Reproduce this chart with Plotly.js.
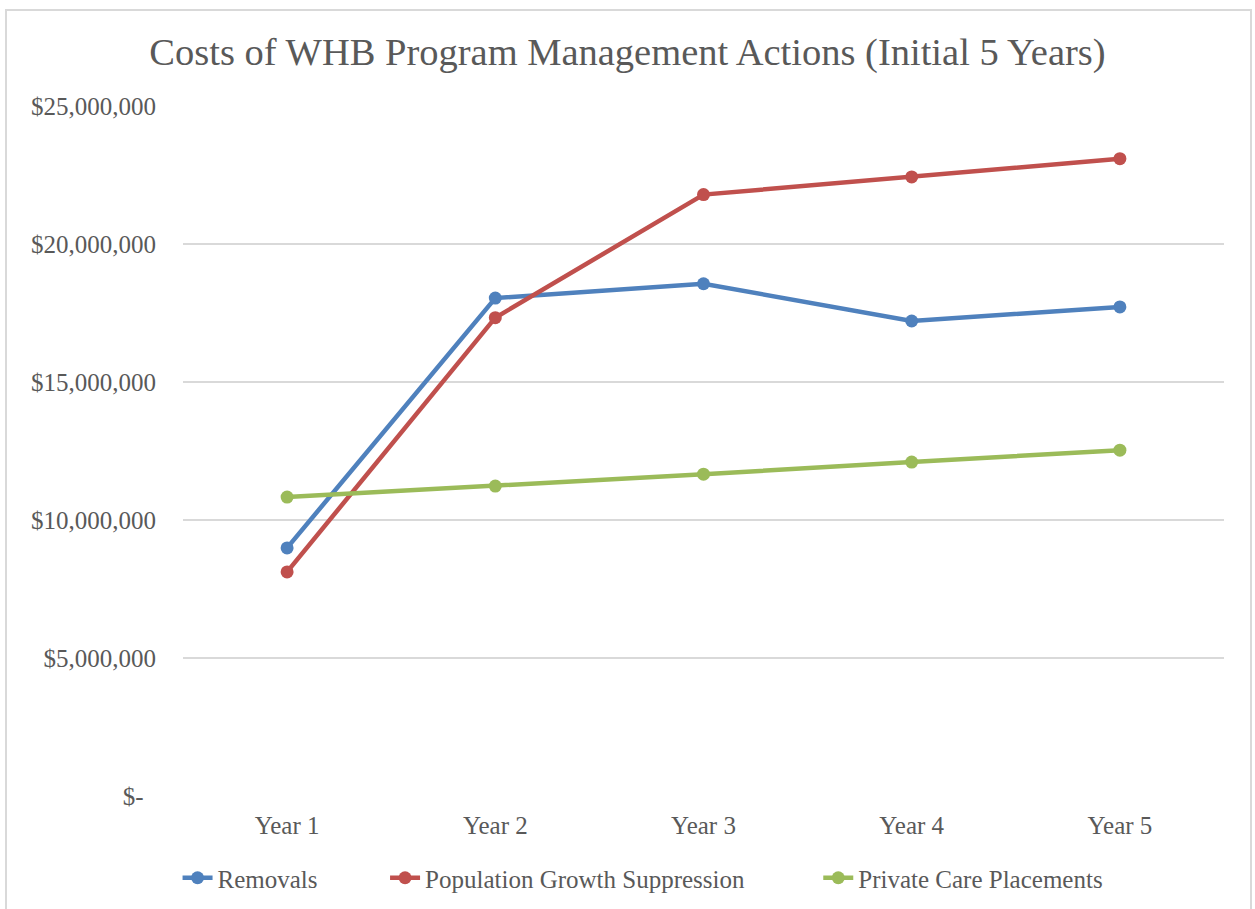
<!DOCTYPE html>
<html>
<head>
<meta charset="utf-8">
<script src="https://cdn.plot.ly/plotly-3.0.1.min.js"></script>
<style>
html,body{margin:0;padding:0;background:#fff;}
#wrap{position:relative;width:1255px;height:909px;overflow:hidden;}
#chart{position:absolute;left:0;top:0;width:1255px;height:909px;}
#frame{position:absolute;left:5px;top:9px;width:1247px;height:920px;border:2px solid #d9d9d9;pointer-events:none;box-sizing:border-box;}
</style>
</head>
<body>
<div id="wrap"><div id="chart"></div><div id="frame"></div></div>
<script>
const years = ["Year 1", "Year 2", "Year 3", "Year 4", "Year 5"];
const removals = [8990000, 18040000, 18560000, 17210000, 17720000];
const growthSuppression = [8120000, 17330000, 21790000, 22430000, 23090000];
const privateCare = [10830000, 11230000, 11660000, 12100000, 12530000];
const seriesNames = ["Removals", "Population Growth Suppression", "Private Care Placements"];
const yTickVals = [0, 5000000, 10000000, 15000000, 20000000, 25000000];
const yTickText = ["$-\u00a0\u00a0", "$5,000,000", "$10,000,000", "$15,000,000", "$20,000,000", "$25,000,000"];

const font = "Liberation Serif, Cambria, serif";
const txt = "#595959";
const nb = n => "\u00a0".repeat(n);

function tr(name, y, color, padN) {
  return {
    type: "scatter", mode: "lines+markers", name: name + nb(padN), x: years, y: y,
    line: {color: color, width: 4.5},
    marker: {color: color, size: 13},
    cliponaxis: false
  };
}

const data = [
  tr(seriesNames[0], removals, "#4f81bd", 10),
  tr(seriesNames[1], growthSuppression, "#c0504d", 11),
  tr(seriesNames[2], privateCare, "#9bbb59", 0)
];

const layout = {
  width: 1255, height: 909,
  paper_bgcolor: "#ffffff", plot_bgcolor: "#ffffff",
  margin: {l: 183, r: 31, t: 106, b: 113},
  font: {family: font, color: txt, size: 25},
  title: {text: "Costs of WHB Program Management Actions (Initial 5 Years)",
          font: {family: font, size: 38.5, color: txt},
          x: 0.5, xref: "container", xanchor: "center", y: 1 - 52/909, yanchor: "middle", yref: "container"},
  xaxis: {type: "category", range: [-0.5, 4.5], showgrid: false, zeroline: false,
          showline: false, ticks: "", ticklabelstandoff: 12, tickfont: {family: font, size: 25, color: txt}},
  yaxis: {range: [0, 25000000], tickvals: yTickVals, ticktext: yTickText,
          showgrid: true, gridcolor: "#d9d9d9", gridwidth: 1.5, zeroline: false, showline: false,
          ticks: "", ticklabelstandoff: 26, tickfont: {family: font, size: 25, color: txt}},
  showlegend: true,
  legend: {orientation: "h", x: 0.5124, xref: "container", xanchor: "center",
           y: 31/909, yref: "container", yanchor: "middle",
           font: {family: font, size: 25, color: txt}, tracegroupgap: 0,
           bgcolor: "rgba(0,0,0,0)"}
};

Plotly.newPlot("chart", data, layout, {displayModeBar: false, staticPlot: true});
</script>
</body>
</html>
